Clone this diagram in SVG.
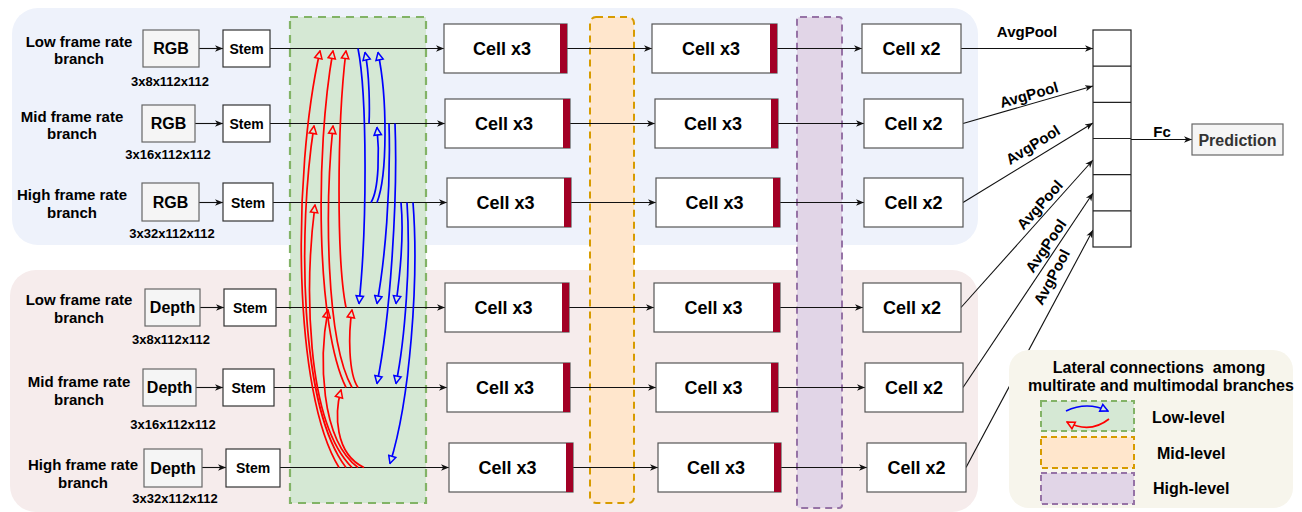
<svg xmlns="http://www.w3.org/2000/svg" width="1302" height="512" viewBox="0 0 1302 512">
<style>
text{font-family:"Liberation Sans",Arial,Helvetica,sans-serif;font-weight:bold;fill:#000}
.lbl{font-size:15px;text-anchor:middle}
.dim{font-size:13px;text-anchor:middle}
.bt{font-size:16px;text-anchor:middle}
.st{font-size:14px;text-anchor:middle}
.ct{font-size:18px;text-anchor:middle}
.ap{font-size:15px;text-anchor:middle}
.in{fill:#F5F5F5;stroke:#666;stroke-width:1.2}
.stem{fill:#fff;stroke:#333;stroke-width:1.2}
.cell{fill:#fff;stroke:#555;stroke-width:1.2}
.bar{fill:#A20025}
.conn{fill:none;stroke:#111;stroke-width:1.1;marker-end:url(#ah)}
.red{fill:none;stroke:#FF0000;stroke-width:1.7;marker-end:url(#ar)}
.blue{fill:none;stroke:#0000FF;stroke-width:1.7;marker-end:url(#ab)}
</style>
<defs>
<marker id="ah" viewBox="0 0 8 8" refX="8" refY="4" markerWidth="8" markerHeight="8" markerUnits="userSpaceOnUse" orient="auto"><path d="M0,0.8 L8,4 L0,7.2 L2.2,4 z" fill="#111"/></marker>
<marker id="ar" viewBox="0 0 10 10" refX="9" refY="5" markerWidth="10" markerHeight="10" markerUnits="userSpaceOnUse" orient="auto"><path d="M1.5,1.3 L9,5 L1.5,8.7 z" fill="#D5E8D4" stroke="#FF0000" stroke-width="1.5"/></marker>
<marker id="ab" viewBox="0 0 10 10" refX="9" refY="5" markerWidth="10" markerHeight="10" markerUnits="userSpaceOnUse" orient="auto"><path d="M1.5,1.3 L9,5 L1.5,8.7 z" fill="#D5E8D4" stroke="#0000FF" stroke-width="1.5"/></marker>
</defs>

<g id="panels">
<rect x="12" y="8" width="966" height="237" rx="26" fill="#EEF2FB"/>
<rect x="10" y="270" width="968" height="242" rx="26" fill="#F6ECEC"/>
<rect x="290" y="17" width="136" height="486" fill="#D5E8D4" stroke="#82B366" stroke-width="2.2" stroke-dasharray="8 6"/>
<rect x="590" y="17" width="44" height="486" rx="6" fill="#FFE6CC" stroke="#D79B00" stroke-width="2" stroke-dasharray="7 5"/>
<rect x="797" y="17" width="45" height="491" rx="3" fill="#E1D5E7" stroke="#9673A6" stroke-width="2" stroke-dasharray="7 5"/>
</g>

<g id="connectors">
<path class="conn" d="M199,48.5 H223"/>
<path class="conn" d="M270,48.5 H444"/>
<path class="conn" d="M567,48.5 H652"/>
<path class="conn" d="M777,48.5 H862"/>
<path class="conn" d="M961,48.5 H1093"/>

<path class="conn" d="M195,123.5 H223"/>
<path class="conn" d="M270,123.5 H445"/>
<path class="conn" d="M570,123.5 H655"/>
<path class="conn" d="M778,123.5 H864"/>
<path class="conn" d="M963,123.5 L1093,86"/>

<path class="conn" d="M199,202.5 H223"/>
<path class="conn" d="M273,202.5 H447"/>
<path class="conn" d="M571,202.5 H656"/>
<path class="conn" d="M780,202.5 H864"/>
<path class="conn" d="M963,202.5 L1093,123"/>

<path class="conn" d="M200,307.5 H224"/>
<path class="conn" d="M276,307.5 H445"/>
<path class="conn" d="M569,307.5 H654"/>
<path class="conn" d="M780,307.5 H863"/>
<path class="conn" d="M961,307.5 L1093,160"/>

<path class="conn" d="M196,387.5 H223"/>
<path class="conn" d="M274,387.5 H447"/>
<path class="conn" d="M570,387.5 H656"/>
<path class="conn" d="M778,387.5 H865"/>
<path class="conn" d="M963,387.5 L1093,193"/>

<path class="conn" d="M202,467.5 H226"/>
<path class="conn" d="M280,467.5 H449"/>
<path class="conn" d="M573,467.5 H658"/>
<path class="conn" d="M781,467.5 H867"/>
<path class="conn" d="M966,467.5 L1093,230"/>

<path class="conn" d="M1131,139.5 H1192"/>

<g id="lateral-red">
<path class="red" d="M339,467.5 C293,392.5 292,176 320,51"/>
<path class="red" d="M346,467.5 C299,406 298,228.5 314,126"/>
<path class="red" d="M352,467.5 C305,420.3 305,283.8 315,205"/>
<path class="red" d="M358,467.5 C320,439.2 319,357.3 328,310"/>
<path class="red" d="M364,467.5 C334.5,453.5 334.5,413.3 341,390"/>
<path class="red" d="M346,387.5 C316,327 315,152 333,51"/>
<path class="red" d="M352,387.5 C325.5,340.4 325,204.5 333,126"/>
<path class="red" d="M358,387.5 C348.3,373.5 348.3,333.3 352,310"/>
<path class="red" d="M346,307.5 C336.7,261.3 336.7,128 346,51"/>
</g>
<g id="lateral-blue">
<path class="blue" d="M358,48.5 C367.2,94.4 367.2,227 359,303.5"/>
<path class="blue" d="M389,123.5 C391,190 385,260 377,303.5"/>
<path class="blue" d="M395,123.5 C398,200 390,320 377,383.5"/>
<path class="blue" d="M401,202.5 C404,235 400,275 396,303.5"/>
<path class="blue" d="M407,202.5 C411,260 405,340 396,383.5"/>
<path class="blue" d="M413,202.5 C419,280 410,400 390,463.5"/>
<path class="blue" d="M369,123.5 C369.7,110.7 369.7,73.8 365,52.5"/>
<path class="blue" d="M377,202.5 C387.5,175.5 387.5,97.5 378,52.5"/>
<path class="blue" d="M371,202.5 C379.3,189 379.3,150 377,127.5"/>
</g>

<text class="ap" x="1027" y="37">AvgPool</text>
<text class="ap" transform="translate(1029,95) rotate(-16)" y="5">AvgPool</text>
<text class="ap" transform="translate(1033,145) rotate(-32)" y="5">AvgPool</text>
<text class="ap" transform="translate(1040,205) rotate(-48)" y="5">AvgPool</text>
<text class="ap" transform="translate(1046,246) rotate(-56)" y="5">AvgPool</text>
<text class="ap" transform="translate(1052,277) rotate(-62)" y="5">AvgPool</text>
<text class="ap" x="1162" y="137">Fc</text>
</g>

<g id="row1">
<text class="lbl" x="79" y="47">Low frame rate</text>
<text class="lbl" x="79" y="64">branch</text>
<rect class="in" x="143" y="30" width="56" height="37"/>
<text class="bt" x="171" y="54">RGB</text>
<text class="dim" x="170" y="85.5">3x8x112x112</text>
<rect class="stem" x="223" y="30" width="47" height="37"/>
<text class="st" x="246.5" y="53.5">Stem</text>
<rect class="cell" x="444" y="24" width="123" height="49"/><rect class="bar" x="560" y="24" width="7" height="49"/>
<text class="ct" x="502" y="55">Cell x3</text>
<rect class="cell" x="652" y="24" width="125" height="49"/><rect class="bar" x="770" y="24" width="7" height="49"/>
<text class="ct" x="711" y="55">Cell x3</text>
<rect class="cell" x="862" y="24" width="99" height="49"/>
<text class="ct" x="911.5" y="55">Cell x2</text>
</g>

<g id="row2">
<text class="lbl" x="72" y="122">Mid frame rate</text>
<text class="lbl" x="72" y="139">branch</text>
<rect class="in" x="142" y="105" width="53" height="37"/>
<text class="bt" x="168.5" y="129">RGB</text>
<text class="dim" x="168" y="158.5">3x16x112x112</text>
<rect class="stem" x="223" y="105" width="47" height="37"/>
<text class="st" x="246.5" y="128.5">Stem</text>
<rect class="cell" x="445" y="99" width="125" height="49"/><rect class="bar" x="563" y="99" width="7" height="49"/>
<text class="ct" x="504" y="130">Cell x3</text>
<rect class="cell" x="655" y="99" width="123" height="49"/><rect class="bar" x="771" y="99" width="7" height="49"/>
<text class="ct" x="713" y="130">Cell x3</text>
<rect class="cell" x="864" y="99" width="99" height="49"/>
<text class="ct" x="913.5" y="130">Cell x2</text>
</g>

<g id="row3">
<text class="lbl" x="72" y="200">High frame rate</text>
<text class="lbl" x="72" y="218">branch</text>
<rect class="in" x="142" y="183" width="57" height="38"/>
<text class="bt" x="170.5" y="208">RGB</text>
<text class="dim" x="172" y="237.5">3x32x112x112</text>
<rect class="stem" x="223" y="183" width="50" height="38"/>
<text class="st" x="248" y="207.5">Stem</text>
<rect class="cell" x="447" y="178" width="124" height="49"/><rect class="bar" x="564" y="178" width="7" height="49"/>
<text class="ct" x="505.5" y="209">Cell x3</text>
<rect class="cell" x="656" y="178" width="124" height="49"/><rect class="bar" x="773" y="178" width="7" height="49"/>
<text class="ct" x="714.5" y="209">Cell x3</text>
<rect class="cell" x="864" y="178" width="99" height="49"/>
<text class="ct" x="913.5" y="209">Cell x2</text>
</g>

<g id="row4">
<text class="lbl" x="79" y="305">Low frame rate</text>
<text class="lbl" x="79" y="323">branch</text>
<rect class="in" x="145" y="289" width="55" height="37"/>
<text class="bt" x="172.5" y="313">Depth</text>
<text class="dim" x="171" y="343.5">3x8x112x112</text>
<rect class="stem" x="224" y="289" width="52" height="37"/>
<text class="st" x="250" y="312.5">Stem</text>
<rect class="cell" x="445" y="283" width="124" height="49"/><rect class="bar" x="562" y="283" width="7" height="49"/>
<text class="ct" x="503.5" y="314">Cell x3</text>
<rect class="cell" x="654" y="283" width="126" height="49"/><rect class="bar" x="773" y="283" width="7" height="49"/>
<text class="ct" x="713.5" y="314">Cell x3</text>
<rect class="cell" x="863" y="283" width="98" height="49"/>
<text class="ct" x="912" y="314">Cell x2</text>
</g>

<g id="row5">
<text class="lbl" x="79" y="387">Mid frame rate</text>
<text class="lbl" x="79" y="405">branch</text>
<rect class="in" x="143" y="369" width="53" height="37"/>
<text class="bt" x="169.5" y="393">Depth</text>
<text class="dim" x="173" y="428.5">3x16x112x112</text>
<rect class="stem" x="223" y="369" width="51" height="37"/>
<text class="st" x="248.5" y="392.5">Stem</text>
<rect class="cell" x="447" y="363" width="123" height="49"/><rect class="bar" x="563" y="363" width="7" height="49"/>
<text class="ct" x="505" y="394">Cell x3</text>
<rect class="cell" x="656" y="363" width="122" height="49"/><rect class="bar" x="771" y="363" width="7" height="49"/>
<text class="ct" x="713.5" y="394">Cell x3</text>
<rect class="cell" x="865" y="363" width="98" height="49"/>
<text class="ct" x="914" y="394">Cell x2</text>
</g>

<g id="row6">
<text class="lbl" x="83" y="470">High frame rate</text>
<text class="lbl" x="83" y="488">branch</text>
<rect class="in" x="144" y="449" width="58" height="38"/>
<text class="bt" x="173" y="474">Depth</text>
<text class="dim" x="175" y="502.5">3x32x112x112</text>
<rect class="stem" x="226" y="449" width="54" height="38"/>
<text class="st" x="253" y="473">Stem</text>
<rect class="cell" x="449" y="443" width="124" height="49"/><rect class="bar" x="566" y="443" width="7" height="49"/>
<text class="ct" x="507.5" y="474">Cell x3</text>
<rect class="cell" x="658" y="443" width="123" height="49"/><rect class="bar" x="774" y="443" width="7" height="49"/>
<text class="ct" x="716" y="474">Cell x3</text>
<rect class="cell" x="867" y="443" width="99" height="49"/>
<text class="ct" x="916.5" y="474">Cell x2</text>
</g>

<g id="concat">
<rect x="1093" y="30" width="38" height="217" fill="#fff" stroke="#222" stroke-width="1.2"/>
<path d="M1093,66.2 H1131 M1093,102.3 H1131 M1093,138.5 H1131 M1093,174.7 H1131 M1093,210.8 H1131" stroke="#222" stroke-width="1.2"/>
</g>

<g id="prediction">
<rect x="1192" y="124" width="91" height="31" fill="#F5F5F5" stroke="#666" stroke-width="1.2"/>
<text x="1237.5" y="145.5" style="font-size:16px;text-anchor:middle;fill:#333">Prediction</text>
</g>

<g id="legend">
<rect x="1009" y="350" width="284" height="158" rx="20" fill="#F7F5EC"/>
<text x="1159" y="373" xml:space="preserve" style="font-size:16px;text-anchor:middle">Lateral connections  among</text>
<text x="1161" y="391" style="font-size:16px;text-anchor:middle">multirate and multimodal branches</text>
<rect x="1041" y="401" width="93" height="30" fill="#D5E8D4" stroke="#82B366" stroke-width="2" stroke-dasharray="6 4"/>
<rect x="1041" y="437" width="93" height="31" fill="#FFE6CC" stroke="#D79B00" stroke-width="2" stroke-dasharray="6 4"/>
<rect x="1041" y="473" width="93" height="31" fill="#E1D5E7" stroke="#9673A6" stroke-width="2" stroke-dasharray="6 4"/>
<path class="blue" d="M1066,411 Q1087,401 1108,411"/>
<path class="red" d="M1109,419 Q1090,434 1067,422"/>
<text x="1152" y="423" style="font-size:16px">Low-level</text>
<text x="1157" y="459" style="font-size:16px">Mid-level</text>
<text x="1153" y="494" style="font-size:16px">High-level</text>
</g>
</svg>
